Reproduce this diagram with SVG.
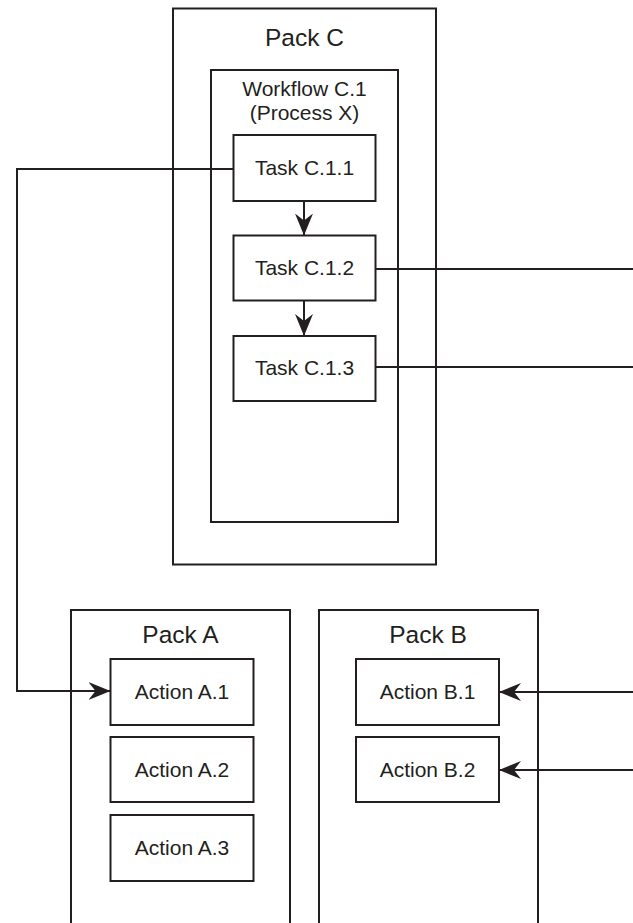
<svg xmlns="http://www.w3.org/2000/svg" width="633" height="923" viewBox="0 0 633 923">
<style>
.box{fill:#fff;stroke:#231f20;stroke-width:2}
.cont{fill:none;stroke:#231f20;stroke-width:2}
.conn{fill:none;stroke:#231f20;stroke-width:2}
text{font-family:"Liberation Sans",Arial,sans-serif;fill:#231f20;text-anchor:middle}
.t{font-size:21px}
.h{font-size:24.5px}
</style>
<defs>
<marker id="arr" viewBox="0 0 22 18" refX="22" refY="9" markerWidth="22" markerHeight="18" markerUnits="userSpaceOnUse" orient="auto">
<path d="M0,0 L22,9 L0,18 L7,9 Z" fill="#231f20"/>
</marker>
</defs>
<rect x="0" y="0" width="633" height="923" fill="#fff"/>
<g id="packC">
<rect class="cont" x="173" y="8.5" width="263" height="556"/>
<text class="h" x="304.5" y="45.5">Pack C</text>
</g>
<g id="workflowC1">
<rect class="cont" x="211" y="70" width="187" height="452"/>
<text class="t" x="304.5" y="96">Workflow C.1</text>
<text class="t" x="304.5" y="119.5">(Process X)</text>
</g>
<g id="taskC11">
<rect class="box" x="233.5" y="135" width="142" height="66"/>
<text class="t" x="304.5" y="175">Task C.1.1</text>
</g>
<g id="taskC12">
<rect class="box" x="233.5" y="235.5" width="142" height="65"/>
<text class="t" x="304.5" y="275">Task C.1.2</text>
</g>
<g id="taskC13">
<rect class="box" x="233.5" y="336" width="142" height="65"/>
<text class="t" x="304.5" y="375">Task C.1.3</text>
</g>
<g id="packA">
<rect class="cont" x="71" y="610" width="219" height="330"/>
<text class="h" x="180.5" y="643">Pack A</text>
</g>
<g id="actionA1">
<rect class="box" x="110.5" y="659" width="143" height="66"/>
<text class="t" x="182" y="698.5">Action A.1</text>
</g>
<g id="actionA2">
<rect class="box" x="110.5" y="737" width="143" height="65"/>
<text class="t" x="182" y="777">Action A.2</text>
</g>
<g id="actionA3">
<rect class="box" x="110.5" y="815" width="143" height="66"/>
<text class="t" x="182" y="855">Action A.3</text>
</g>
<g id="packB">
<rect class="cont" x="319" y="610" width="219" height="330"/>
<text class="h" x="428" y="643">Pack B</text>
</g>
<g id="actionB1">
<rect class="box" x="356" y="659" width="143" height="66"/>
<text class="t" x="427.5" y="698.5">Action B.1</text>
</g>
<g id="actionB2">
<rect class="box" x="356" y="737" width="143" height="65"/>
<text class="t" x="427.5" y="777">Action B.2</text>
</g>
<g id="connectors">
<path class="conn" d="M233.5,169 H17 V691 H110.5" marker-end="url(#arr)"/>
<path class="conn" d="M304,201 V235.5" marker-end="url(#arr)"/>
<path class="conn" d="M304,300.5 V336" marker-end="url(#arr)"/>
<path class="conn" d="M375.5,269 H633"/>
<path class="conn" d="M375.5,367 H633"/>
<path class="conn" d="M633,692 H499" marker-end="url(#arr)"/>
<path class="conn" d="M633,770 H499" marker-end="url(#arr)"/>
</g>
</svg>
